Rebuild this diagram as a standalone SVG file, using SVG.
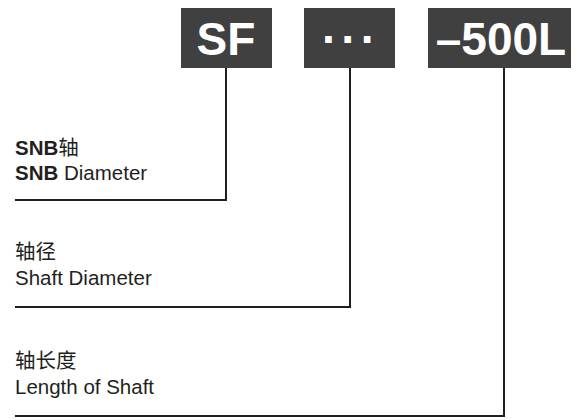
<svg xmlns="http://www.w3.org/2000/svg" width="577" height="420" viewBox="0 0 577 420">
<style>
.box{fill:#404040}
.bt{font-family:"Liberation Sans",Arial,sans-serif;font-weight:bold;font-size:46px;fill:#fff;text-anchor:middle}
.lbl{font-family:"Liberation Sans","Noto Sans CJK SC",sans-serif;font-size:20.5px;fill:#231f20}
.b{font-weight:bold}
.conn{fill:none;stroke:#231f20;stroke-width:2}
</style>
<rect width="577" height="420" fill="#fff"/>
<g id="node-sf"><rect class="box" x="181" y="8" width="91" height="60"/><text class="bt" x="226" y="55">SF</text></g>
<g id="node-dots"><rect class="box" x="304" y="8" width="91" height="60"/><text class="bt" x="351" y="55" font-size="40" letter-spacing="4">···</text></g>
<g id="node-500l"><rect class="box" x="428" y="8" width="143" height="60"/><text class="bt" x="501" y="55">–500L</text></g>
<g id="label-snb"><text class="lbl" x="15" y="155"><tspan class="b">SNB</tspan>轴</text><text class="lbl" x="15" y="180"><tspan class="b">SNB</tspan> Diameter</text></g>
<g id="label-shaft-dia"><text class="lbl" x="15" y="259">轴径</text><text class="lbl" x="15" y="285">Shaft Diameter</text></g>
<g id="label-length"><text class="lbl" x="15" y="368">轴长度</text><text class="lbl" x="15" y="394">Length of Shaft</text></g>
<g id="connectors">
<polyline class="conn" points="226,68 226,200 15,200"/>
<polyline class="conn" points="350,68 350,307 15,307"/>
<polyline class="conn" points="504,68 504,416 15,416"/>
</g>
</svg>
